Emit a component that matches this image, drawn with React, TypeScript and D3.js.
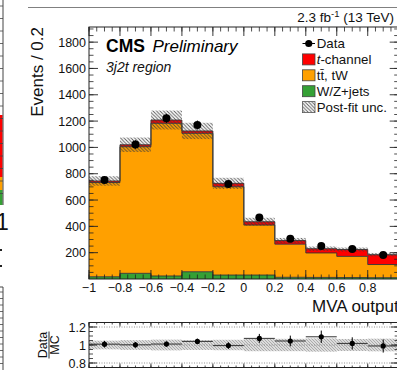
import React from "react";
import * as d3 from "d3";

// ---------- data ----------
const binEdges = [-1, -0.8, -0.6, -0.4, -0.2, 0, 0.2, 0.4, 0.6, 0.8, 1];
const wzJets = [17, 43, 23, 55, 30, 30, 13, 12, 11, 10];
const ttbarTW = [716, 962, 1160, 1052, 671, 380, 252, 186, 161, 100];
const tChannel = [12, 15, 25, 18, 26, 25, 27, 32, 52, 75];
const dataCounts = [752, 1022, 1221, 1170, 722, 467, 305, 251, 228, 183];
const postFitUnc = [36, 55, 72, 62, 42, 30, 20, 17, 15, 13];

const xTicks = [-1, -0.8, -0.6, -0.4, -0.2, 0, 0.2, 0.4, 0.6, 0.8, 1];
const xLabelTicks = [-1, -0.8, -0.6, -0.4, -0.2, 0, 0.2, 0.4, 0.6, 0.8];
const xTickLabels = ["−1", "−0.8", "−0.6", "−0.4", "−0.2", "0", "0.2", "0.4", "0.6", "0.8"];
const yTicks = [200, 400, 600, 800, 1000, 1200, 1400, 1600, 1800];
const yTickLabels = ["200", "400", "600", "800", "1000", "1200", "1400", "1600", "1800"];
const ratioTicks = [0.8, 1, 1.2];
const ratioTickLabels = ["0.8", "1", "1.2"];

const legendItems = [
  { key: "data", label: "Data" },
  { key: "tc", label: "t-channel" },
  { key: "tt", label: "tt̄, tW" },
  { key: "wz", label: "W/Z+jets" },
  { key: "unc", label: "Post-fit unc." },
];

// ---------- styles ----------
const COLORS: Record<string, string> = { wz: "#35a035", tt: "#ffa000", tc: "#ff0000" };
const FONT = "'Liberation Sans', Arial, Helvetica, sans-serif";

export default function App() {
  const W = 397, H = 373;
  const xL = 89, xR = 398.7;
  const mainTop = 27, mainBot = 279;
  const rTop = 322.5, rBot = 367.5;

  const x = d3.scaleLinear().domain([-1, 1]).range([xL, xR]);
  const y = d3.scaleLinear().domain([0, 1915]).range([mainBot, mainTop]);
  const yr = d3.scaleLinear().domain([0.75, 1.25]).range([rBot, rTop]);

  const rows = binEdges.slice(0, -1).map((_, i) => ({ wz: wzJets[i], tt: ttbarTW[i], tc: tChannel[i] }));
  const stack = d3.stack<any>().keys(["wz", "tt", "tc"])(rows);
  const totals = rows.map((r) => r.wz + r.tt + r.tc);

  const stepPts = (s: any[]) =>
    s.flatMap((d: any, i: number) => [
      { x: binEdges[i], y0: d[0], y1: d[1] },
      { x: binEdges[i + 1], y0: d[0], y1: d[1] },
    ]);
  const area = d3.area<any>().x((p) => x(p.x)).y0((p) => y(p.y0)).y1((p) => y(p.y1));
  const line = d3.line<any>().x((p) => x(p.x)).y((p) => y(p.y1));

  const xMinor = d3.range(-1, 1.0001, 0.05);
  const yMinor = d3.range(50, 1915, 50);
  const rMinor = d3.range(0.75, 1.2501, 0.05);

  return (
    <svg width={W} height={H} style={{ position: "absolute", left: 0, top: 0, background: "#fff" }} fontFamily={FONT}>
      <defs>
        <pattern id="hatch" patternUnits="userSpaceOnUse" width="3.5" height="3.5">
          <path d="M-1,-1 L4.5,4.5 M-1,2.5 L1,4.5 M2.5,-1 L4.5,1" stroke="#3a3a3a" strokeWidth="0.9" opacity="0.85" />
        </pattern>
        <pattern id="hatchR" patternUnits="userSpaceOnUse" width="3" height="3">
          <rect width="3" height="3" fill="#dcdcdc" />
          <path d="M-1,-1 L4,4 M-1,2 L1,4 M2,-1 L4,1" stroke="#a0a0a0" strokeWidth="0.8" />
        </pattern>
        <clipPath id="mainClip">
          <rect x={xL} y={mainTop} width={xR - xL} height={mainBot - mainTop} />
        </clipPath>
        <clipPath id="ratioClip">
          <rect x={xL} y={rTop} width={xR - xL} height={rBot - rTop} />
        </clipPath>
      </defs>

      {/* remnants of neighbouring plot at left edge */}
      <g>
        <rect x={0} y={115} width={2.6} height={62} fill="#ff0000" />
        <rect x={0} y={177} width={2.6} height={13} fill="#ffa000" />
        <rect x={0} y={190} width={2.6} height={15} fill="#35a035" />
        <line x1={3} x2={3} y1={0} y2={205} stroke="#444" strokeWidth={1} />
        {d3.range(6, 205, 12.5).map((v, i) => (
          <line key={i} x1={0} x2={3} y1={v} y2={v} stroke="#444" strokeWidth={0.8} />
        ))}
        <text x={-4} y={230} fontSize={23} fill="#111">1</text>
        <rect x={0} y={249} width={2} height={2} fill="#222" />
        <rect x={0} y={265} width={2} height={2} fill="#222" />
        <line x1={3} x2={3} y1={287} y2={370} stroke="#444" strokeWidth={1} />
        <line x1={0} x2={3} y1={287} y2={287} stroke="#444" strokeWidth={1} />
        {d3.range(292, 370, 6.5).map((v, i) => (
          <line key={i} x1={0} x2={3} y1={v} y2={v} stroke="#444" strokeWidth={0.8} />
        ))}
      </g>

      {/* top border line */}
      <line x1={28} x2={W} y1={7.5} y2={7.5} stroke="#808080" strokeWidth={1} />

      {/* lumi text */}
      <text x={394} y={22} fontSize={13.5} textAnchor="end" fill="#111">
        2.3 fb<tspan dy={-5.5} fontSize={9.5}>-1</tspan>
        <tspan dy={5.5}> (13 TeV)</tspan>
      </text>

      {/* main panel */}
      <g clipPath="url(#mainClip)">
        {stack.map((s: any) => (
          <path key={s.key} d={area(stepPts(s)) || ""} fill={COLORS[s.key]} />
        ))}
        {stack.map((s: any) => (
          <path key={s.key + "o"} d={line(stepPts(s)) || ""} fill="none" stroke="#333" strokeWidth={0.9} />
        ))}
        {totals.map((t, i) => (
          <rect
            key={i}
            x={x(binEdges[i])}
            width={x(binEdges[i + 1]) - x(binEdges[i])}
            y={y(t + postFitUnc[i])}
            height={y(t - postFitUnc[i]) - y(t + postFitUnc[i])}
            fill="url(#hatch)"
          />
        ))}
        {dataCounts.map((d, i) => {
          const cx = x((binEdges[i] + binEdges[i + 1]) / 2);
          const e = Math.sqrt(d);
          return (
            <g key={i}>
              <line x1={cx} x2={cx} y1={y(d + e)} y2={y(d - e)} stroke="#000" strokeWidth={1} />
              <circle cx={cx} cy={y(d)} r={4} fill="#000" />
            </g>
          );
        })}
      </g>

      {/* main frame */}
      <rect x={xL} y={mainTop} width={xR - xL} height={mainBot - mainTop} fill="none" stroke="#222" strokeWidth={1} />
      {xMinor.map((v, i) => (
        <g key={i} stroke="#222" strokeWidth={0.8}>
          <line x1={x(v)} x2={x(v)} y1={mainBot} y2={mainBot - 4.5} />
          <line x1={x(v)} x2={x(v)} y1={mainTop} y2={mainTop + 4.5} />
        </g>
      ))}
      {xTicks.map((v, i) => (
        <g key={i} stroke="#222" strokeWidth={0.9}>
          <line x1={x(v)} x2={x(v)} y1={mainBot} y2={mainBot - 9} />
          <line x1={x(v)} x2={x(v)} y1={mainTop} y2={mainTop + 9} />
        </g>
      ))}
      {yMinor.map((v, i) => (
        <g key={i} stroke="#222" strokeWidth={0.8}>
          <line x1={xL} x2={xL + 4.5} y1={y(v)} y2={y(v)} />
          <line x1={xR} x2={xR - 4.5} y1={y(v)} y2={y(v)} />
        </g>
      ))}
      {yTicks.map((v, i) => (
        <g key={i}>
          <line x1={xL} x2={xL + 9} y1={y(v)} y2={y(v)} stroke="#222" strokeWidth={0.9} />
          <line x1={xR} x2={xR - 9} y1={y(v)} y2={y(v)} stroke="#222" strokeWidth={0.9} />
          <text x={86} y={y(v) + 4.5} fontSize={12.5} textAnchor="end" fill="#111">
            {yTickLabels[i]}
          </text>
        </g>
      ))}
      {xLabelTicks.map((v, i) => (
        <text key={i} x={x(v)} y={292} fontSize={12.5} textAnchor="middle" fill="#111">
          {xTickLabels[i]}
        </text>
      ))}

      {/* axis titles */}
      <text transform="translate(43,27) rotate(-90)" fontSize={17} textAnchor="end" fill="#111">
        Events / 0.2
      </text>
      <text x={xR} y={312} fontSize={17} textAnchor="end" fill="#111">
        MVA output
      </text>

      {/* CMS label */}
      <text x={106} y={51.7} fontSize={17.5} fontWeight="bold" fill="#000">CMS</text>
      <text x={152.5} y={51.7} fontSize={17} fontStyle="italic" fill="#000">Preliminary</text>
      <text x={106} y={71.7} fontSize={14} fontStyle="italic" fill="#111">3j2t region</text>

      {/* legend */}
      {legendItems.map((it, i) => {
        const cy = 43.5 + i * 15.9;
        const bx = 302.5, bw = 12.5, bh = 11;
        let sym: any = null;
        if (it.key === "data") {
          sym = (
            <g>
              <line x1={bx} x2={bx + bw} y1={cy} y2={cy} stroke="#000" strokeWidth={1} />
              <circle cx={bx + bw / 2} cy={cy} r={3.6} fill="#000" />
            </g>
          );
        } else if (it.key === "unc") {
          sym = <rect x={bx} y={cy - bh / 2} width={bw} height={bh} fill="url(#hatch)" stroke="#555" strokeWidth={0.8} />;
        } else {
          sym = <rect x={bx} y={cy - bh / 2} width={bw} height={bh} fill={COLORS[it.key]} stroke="#444" strokeWidth={0.8} />;
        }
        return (
          <g key={it.key}>
            {sym}
            <text x={316.7} y={cy + 4.7} fontSize={13.3} fill="#111">
              {it.key === "tc" ? (
                <>
                  <tspan fontStyle="italic">t</tspan>-channel
                </>
              ) : (
                it.label
              )}
            </text>
          </g>
        );
      })}

      {/* ratio panel */}
      <g clipPath="url(#ratioClip)">
        {totals.map((t, i) => (
          <rect
            key={i}
            x={x(binEdges[i])}
            width={x(binEdges[i + 1]) - x(binEdges[i])}
            y={yr(1 + postFitUnc[i] / t)}
            height={yr(1 - postFitUnc[i] / t) - yr(1 + postFitUnc[i] / t)}
            fill="url(#hatchR)"
          />
        ))}
        {[0.8, 1, 1.2].map((v) => (
          <line key={v} x1={xL} x2={xR} y1={yr(v)} y2={yr(v)} stroke="#888" strokeWidth={0.9} strokeDasharray="1,1.5" />
        ))}
        {dataCounts.map((d, i) => {
          const r = d / totals[i];
          const e = Math.sqrt(d) / totals[i];
          const cx = x((binEdges[i] + binEdges[i + 1]) / 2);
          return (
            <g key={i}>
              <line x1={x(binEdges[i])} x2={x(binEdges[i + 1])} y1={yr(r)} y2={yr(r)} stroke="#333" strokeWidth={1} />
              <line x1={cx} x2={cx} y1={yr(r + e)} y2={yr(r - e)} stroke="#000" strokeWidth={1} />
              <circle cx={cx} cy={yr(r)} r={2.6} fill="#000" />
            </g>
          );
        })}
      </g>
      <rect x={xL} y={rTop} width={xR - xL} height={rBot - rTop} fill="none" stroke="#222" strokeWidth={1} />
      {xMinor.map((v, i) => (
        <g key={i} stroke="#222" strokeWidth={0.8}>
          <line x1={x(v)} x2={x(v)} y1={rBot} y2={rBot - 2} />
          <line x1={x(v)} x2={x(v)} y1={rTop} y2={rTop + 2} />
        </g>
      ))}
      {xTicks.map((v, i) => (
        <g key={i} stroke="#222" strokeWidth={0.9}>
          <line x1={x(v)} x2={x(v)} y1={rBot} y2={rBot - 4} />
          <line x1={x(v)} x2={x(v)} y1={rTop} y2={rTop + 4} />
        </g>
      ))}
      {rMinor.map((v, i) => (
        <g key={i} stroke="#222" strokeWidth={0.8}>
          <line x1={xL} x2={xL + 4} y1={yr(v)} y2={yr(v)} />
          <line x1={xR} x2={xR - 4} y1={yr(v)} y2={yr(v)} />
        </g>
      ))}
      {ratioTicks.map((v, i) => (
        <g key={i}>
          <line x1={xL} x2={xL + 8} y1={yr(v)} y2={yr(v)} stroke="#222" strokeWidth={0.9} />
          <line x1={xR} x2={xR - 8} y1={yr(v)} y2={yr(v)} stroke="#222" strokeWidth={0.9} />
          <text x={86} y={yr(v) + 4.5} fontSize={12.5} textAnchor="end" fill="#111">
            {ratioTickLabels[i]}
          </text>
        </g>
      ))}
      <g transform="translate(49,345) rotate(-90)">
        <text x={0} y={-2} fontSize={12.5} textAnchor="middle" fill="#111">Data</text>
        <line x1={-13.5} x2={13.5} y1={0} y2={0} stroke="#111" strokeWidth={0.9} />
        <text x={0} y={10} fontSize={12.5} textAnchor="middle" fill="#111">MC</text>
      </g>
    </svg>
  );
}
